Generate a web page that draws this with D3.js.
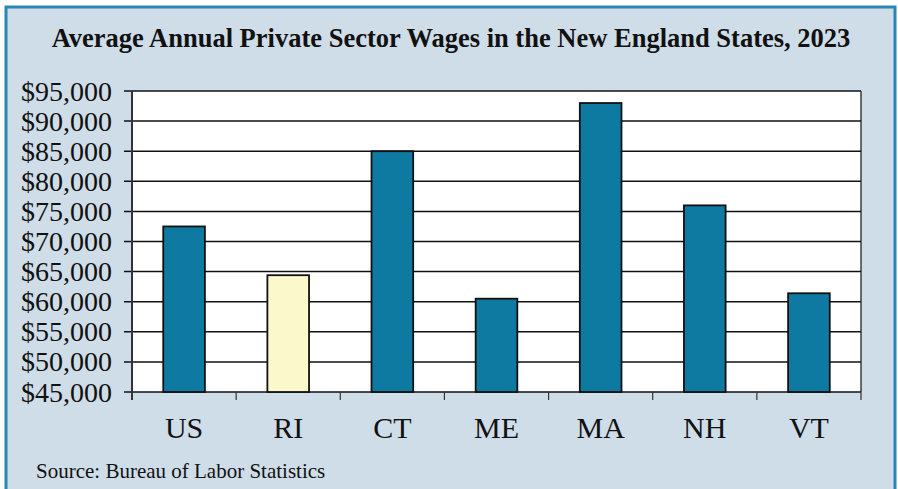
<!DOCTYPE html>
<html lang="en">
<head>
<meta charset="UTF-8">
<script src="https://d3js.org/d3.v7.min.js"></script>
<style>
  body { margin: 0; background: #fff; }
  svg { display: block; font-family: "Liberation Serif", "Times New Roman", serif; }
</style>
</head>
<body>
<script>
    var states = ["US", "RI", "CT", "ME", "MA", "NH", "VT"];
    var wages = [72500, 64400, 85000, 60500, 93000, 76000, 61400];
    var highlight = ["RI"];
    var yTicks = [45000, 50000, 55000, 60000, 65000, 70000, 75000, 80000, 85000, 90000, 95000];

    var canvasWidth = 898, canvasHeight = 489;
    var svg = d3.select("body").append("svg")
        .attr("width", canvasWidth)
        .attr("height", canvasHeight);

    // panel background + border
    svg.append("rect").attr("x", 0).attr("y", 0).attr("width", canvasWidth).attr("height", canvasHeight).attr("fill", "#fff");
    svg.append("rect")
        .attr("x", 6).attr("y", 7).attr("width", 889).attr("height", 490)
        .attr("fill", "#cfdde8").attr("stroke", "#2a86b3").attr("stroke-width", 3);

    var plotL = 132, plotT = 91, plotR = 861, plotB = 392;

    var xScale = d3.scaleBand().domain(states).range([plotL, plotR]).paddingInner(0.6).paddingOuter(0.3);
    var xBand = d3.scaleBand().domain(states).range([plotL, plotR]);
    var yScale = d3.scaleLinear().domain([45000, 95000]).range([plotB, plotT]);

    svg.append("rect")
        .attr("x", plotL).attr("y", plotT).attr("width", plotR - plotL).attr("height", plotB - plotT)
        .attr("fill", "#fff");

    // gridlines
    svg.append("g").selectAll("line").data(yTicks).enter().append("line")
        .attr("x1", plotL - 8).attr("x2", plotR)
        .attr("y1", function(d) { return yScale(d); })
        .attr("y2", function(d) { return yScale(d); })
        .attr("stroke", "#111").attr("stroke-width", 1.5);

    // right frame
    svg.append("line").attr("x1", plotR).attr("x2", plotR).attr("y1", plotT).attr("y2", plotB)
        .attr("stroke", "#111").attr("stroke-width", 1.2);

    // bars
    svg.append("g").selectAll("rect").data(states).enter().append("rect")
        .attr("x", function(d) { return xScale(d); })
        .attr("y", function(d, i) { return yScale(wages[i]); })
        .attr("width", xScale.bandwidth())
        .attr("height", function(d, i) { return plotB - yScale(wages[i]); })
        .attr("fill", function(d) { return highlight.indexOf(d) >= 0 ? "#fbf8cc" : "#0f7aa1"; })
        .attr("stroke", "#111").attr("stroke-width", 1.8);

    // y axis line
    svg.append("line").attr("x1", plotL).attr("x2", plotL).attr("y1", plotT).attr("y2", plotB + 8)
        .attr("stroke", "#333").attr("stroke-width", 2);

    // x axis ticks at category boundaries
    var bounds = states.map(function(d) { return xBand(d); }).concat([plotR]);
    svg.append("g").selectAll("line").data(bounds.slice(1)).enter().append("line")
        .attr("x1", function(d) { return d; }).attr("x2", function(d) { return d; })
        .attr("y1", plotB).attr("y2", plotB + 8)
        .attr("stroke", "#333").attr("stroke-width", 1.2);

    // y labels
    var fmt = d3.format("$,");
    svg.append("g").selectAll("text").data(yTicks).enter().append("text")
        .attr("x", 112)
        .attr("y", function(d) { return yScale(d) + 9.5; })
        .attr("text-anchor", "end")
        .attr("font-size", 28)
        .attr("fill", "#111")
        .text(function(d) { return fmt(d); });

    // x labels
    svg.append("g").selectAll("text").data(states).enter().append("text")
        .attr("x", function(d) { return xBand(d) + xBand.bandwidth() / 2; })
        .attr("y", 438)
        .attr("text-anchor", "middle")
        .attr("font-size", 30)
        .attr("fill", "#111")
        .text(function(d) { return d; });

    svg.append("text")
        .attr("x", 451).attr("y", 47)
        .attr("text-anchor", "middle")
        .attr("font-size", 26.5).attr("font-weight", "bold")
        .attr("fill", "#111")
        .text("Average Annual Private Sector Wages in the New England States, 2023");

    svg.append("text")
        .attr("x", 36).attr("y", 478)
        .attr("font-size", 21)
        .attr("fill", "#111")
        .text("Source: Bureau of Labor Statistics");
</script>
</body>
</html>
